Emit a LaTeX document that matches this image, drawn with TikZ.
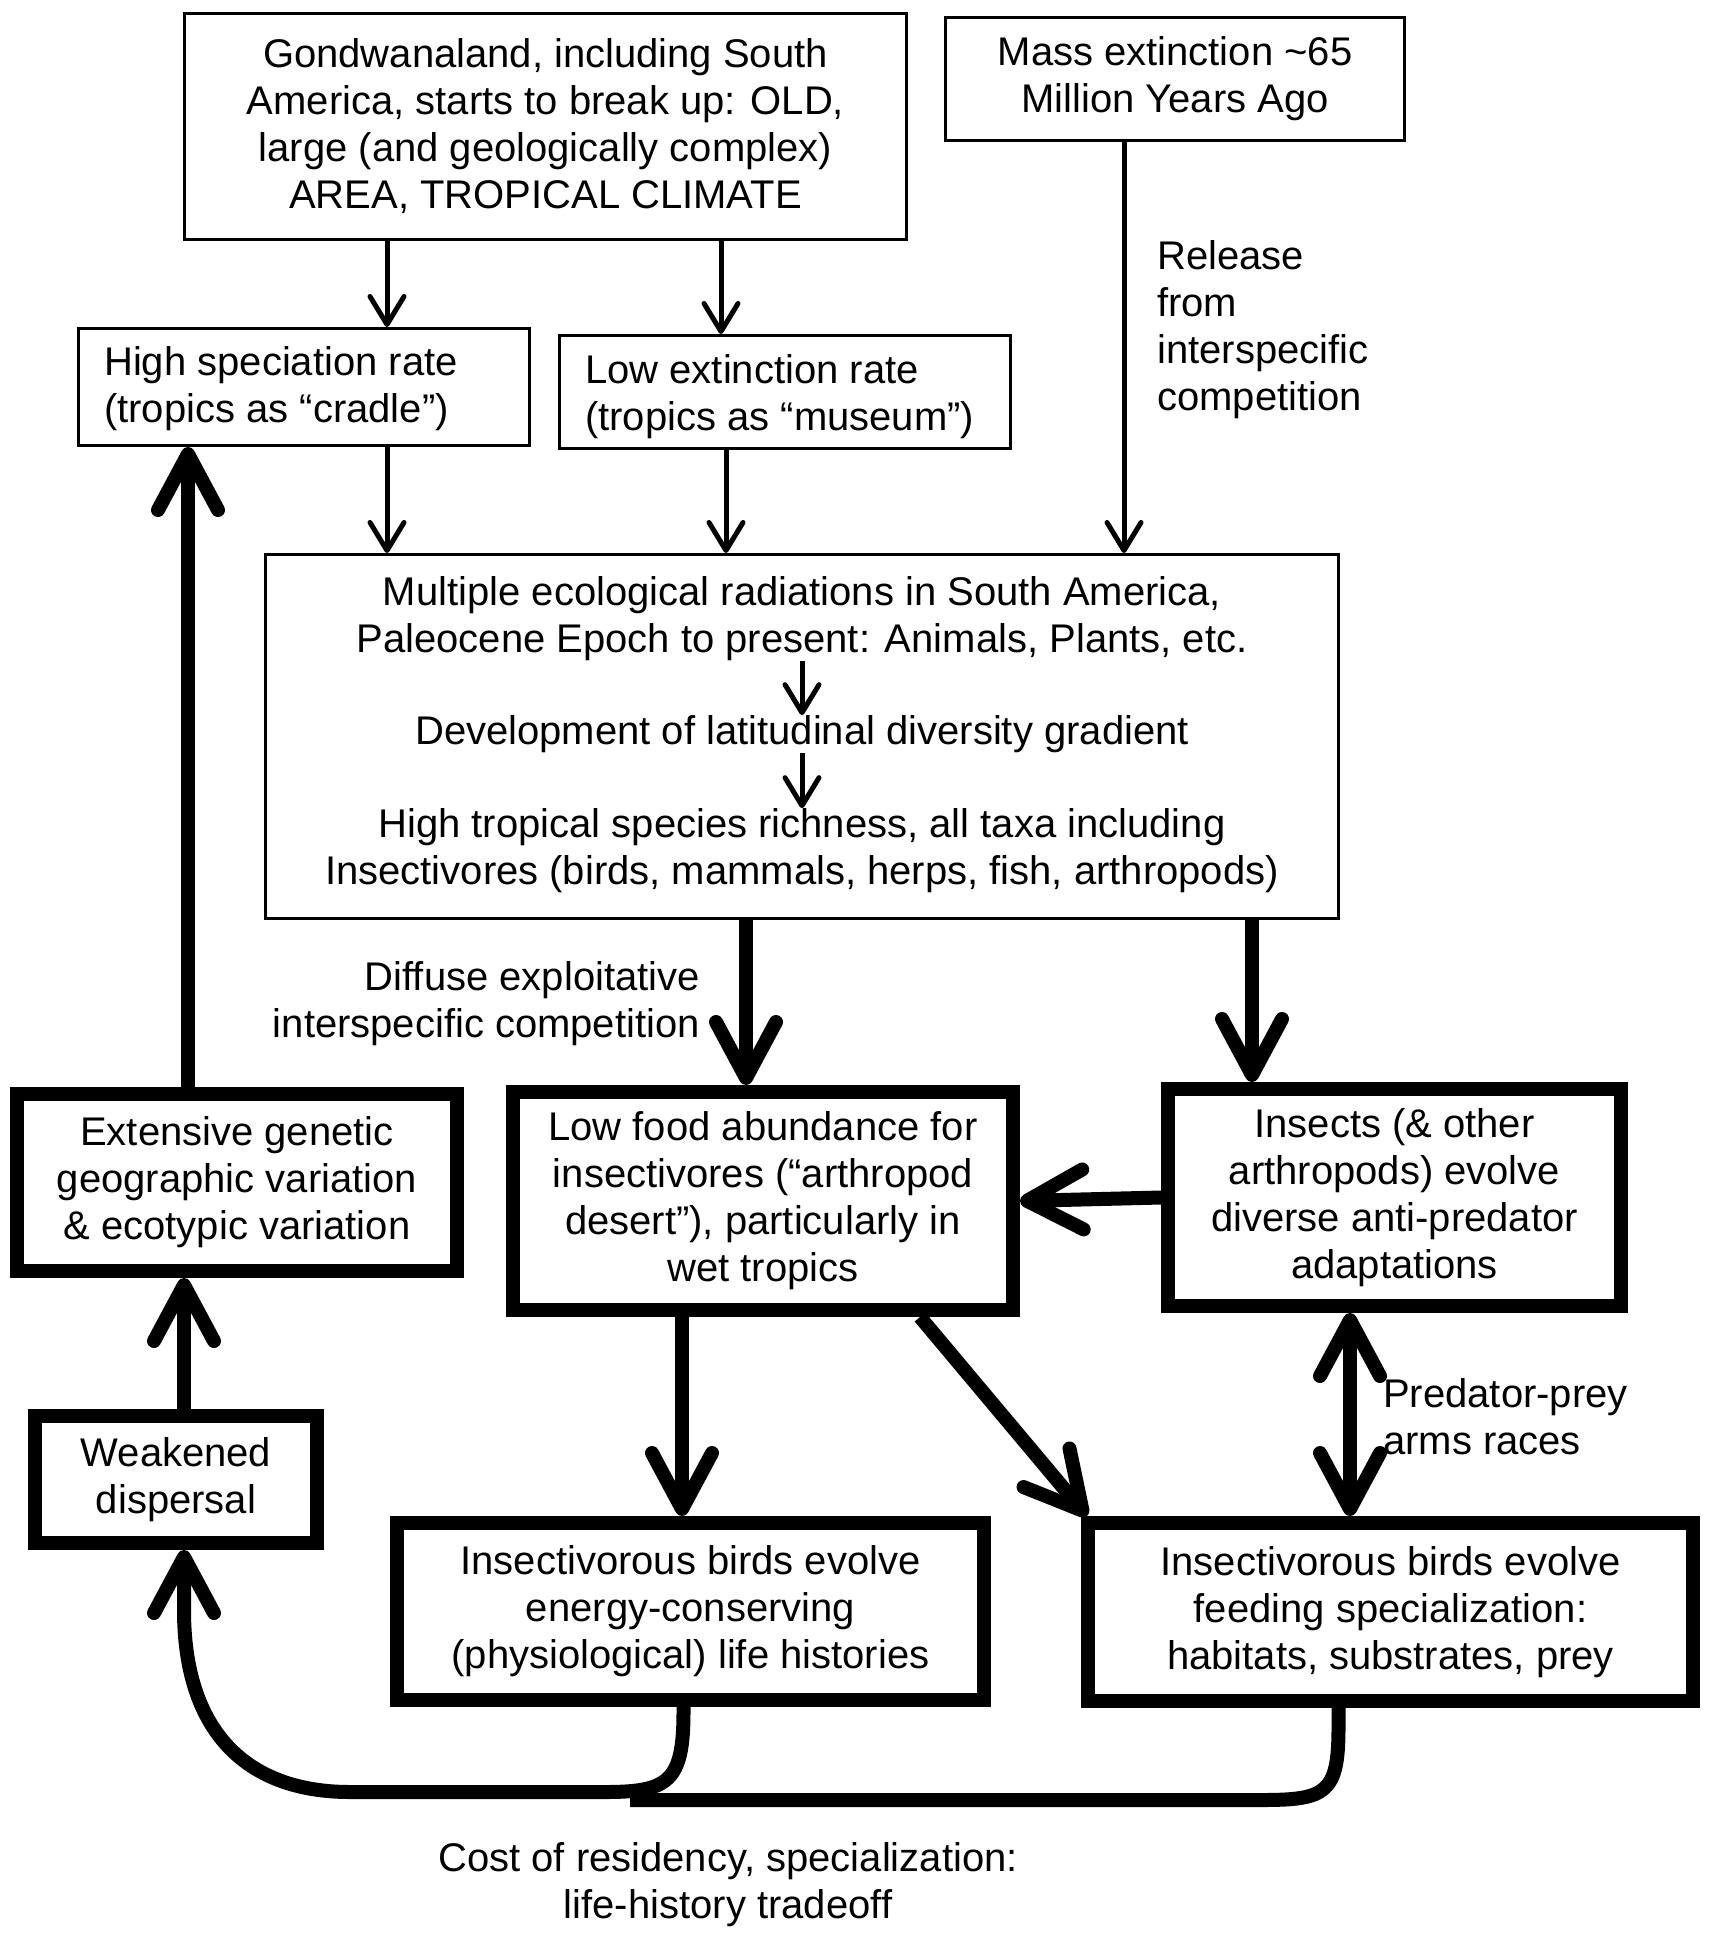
\documentclass[tikz,border=0pt]{standalone}
\usepackage{fontspec}
\setmainfont{Liberation Sans}
\usetikzlibrary{arrows.meta}
\tikzset{
  txt/.style={font=\fontsize{40}{47}\selectfont, inner sep=0pt, align=center},
  thinbox/.style={draw, line width=3pt},
  thickbox/.style={draw, line width=14pt},
  tarr/.style={line width=5pt, -{Straight Barb[length=28pt,width=34pt,round]}},
  karr/.style={line width=14pt, line join=round, -{Straight Barb[length=56pt,width=60pt,round]}},
  karrb/.style={line width=14pt, {Straight Barb[length=56pt,width=60pt,round]}-{Straight Barb[length=56pt,width=60pt,round]}},
  kline/.style={line width=14pt, line join=round},
}
\begin{document}
\begin{tikzpicture}[x=1pt,y=-1pt]
\useasboundingbox (0,0) rectangle (1712,1937);
% x positions of vertical connectors
\coordinate (vA) at (387,0);
\coordinate (vB) at (721,0);
\coordinate (vC) at (726,0);
\coordinate (vD) at (1124,0);
\coordinate (vF) at (746,0);
\coordinate (vG) at (1252,0);
\coordinate (vH) at (188,0);
\coordinate (vI) at (184,0);
\coordinate (vJ) at (682,0);
\coordinate (vK) at (1350,0);

% top boxes
\node[thinbox,txt,minimum width=722pt,minimum height=226pt] (gond) at (545.5,126.5)
  {Gondwanaland, including South\\America, starts to break up: OLD,\\large (and geologically complex)\\AREA, TROPICAL CLIMATE};
\node[thinbox,txt,minimum width=459pt,minimum height=123pt] (mass) at (1175,79)
  {Mass extinction \textasciitilde65\\Million Years Ago};
\node[thinbox,minimum width=451pt,minimum height=117pt] (hs) at (304,387) {};
\node[txt,align=left,anchor=west] (hst) at (104,389) {High speciation rate\\(tropics as “cradle”)};
\node[thinbox,minimum width=451pt,minimum height=113pt] (le) at (785,392) {};
\node[txt,align=left,anchor=west] (let) at (585,396.5) {Low extinction rate\\(tropics as “museum”)};

% big middle box
\node[thinbox,minimum width=1073pt,minimum height=364pt] (mult) at (802,736.5) {};
\node[txt] (m1) at (802,618.5) {Multiple ecological radiations in South America,\\Paleocene Epoch to present: Animals, Plants, etc.};
\node[txt] (m2) at (802,734) {Development of latitudinal diversity gradient};
\node[txt] (m3) at (802,850.5) {High tropical species richness, all taxa including\\Insectivores (birds, mammals, herps, fish, arthropods)};

% thick boxes
\node[thickbox,txt,minimum width=500pt,minimum height=218pt] (lf) at (763,1201)
  {Low food abundance for\\insectivores (“arthropod\\desert”), particularly in\\wet tropics};
\node[thickbox,txt,minimum width=453pt,minimum height=217pt] (ins) at (1394.5,1197.5)
  {Insects (\& other\\arthropods) evolve\\diverse anti-predator\\adaptations};
\node[thickbox,txt,minimum width=440pt,minimum height=177pt] (ext) at (237,1182.5)
  {Extensive genetic\\geographic variation\\\& ecotypic variation};
\node[thickbox,txt,minimum width=282pt,minimum height=127pt] (weak) at (176,1479.5)
  {Weakened\\dispersal};
\node[thickbox,txt,minimum width=587pt,minimum height=177pt] (energy) at (690.5,1611.5)
  {Insectivorous birds evolve\\energy-conserving\\(physiological) life histories};
\node[thickbox,txt,minimum width=605pt,minimum height=178pt] (feed) at (1390.5,1612)
  {Insectivorous birds evolve\\feeding specialization:\\habitats, substrates, prey};

% labels
\node[txt,align=left,anchor=west] (rel) at (1157,330) {Release\\from\\interspecific\\competition};
\node[txt,align=right,anchor=east] (dif) at (700,1004) {Diffuse exploitative\\interspecific competition};
\node[txt,align=left,anchor=west] (pp) at (1383,1417) {Predator-prey\\arms races};
\node[txt] (cost) at (728,1885) {Cost of residency, specialization:\\life-history tradeoff};

% thin connectors
\draw[tarr] (gond.south -| vA) -- (hs.north -| vA);
\draw[tarr] (gond.south -| vB) -- (le.north -| vB);
\draw[tarr] (mass.south -| vD) -- (mult.north -| vD);
\draw[tarr] (hs.south -| vA) -- (mult.north -| vA);
\draw[tarr] (le.south -| vC) -- (mult.north -| vC);
\draw[tarr] (m1.south) -- (m2.north);
\draw[tarr] (m2.south) -- (m3.north);

% thick connectors
\draw[karr] (mult.south -| vF) -- (lf.north -| vF);
\draw[karr] (mult.south -| vG) -- (ins.north -| vG);
\draw[karr] (ins.west) -- (lf.east);
\draw[karr] (ext.north -| vH) -- (hs.south -| vH);
\draw[karr] (weak.north -| vI) -- (ext.south -| vI);
\draw[karr] (lf.south -| vJ) -- (energy.north -| vJ);
\draw[karr] ([xshift=157pt]lf.south) -- ([xshift=6pt]feed.north west);
\draw[karrb] (ins.south -| vK) -- (feed.north -| vK);

% bottom feedback loop
\draw[karr] ([xshift=-7pt]energy.south) -- ++(0,5) .. controls +(0,70) and (668,1792) .. (605,1792)
  -- (350,1792) .. controls (245,1792) and (184,1730) .. (184,1610) -- (weak.south -| vI);
\draw[kline] ([xshift=-52pt]feed.south) -- ++(0,20) .. controls +(0,65) and (1326,1800) .. (1262,1800) -- (630,1800);
\end{tikzpicture}
\end{document}
